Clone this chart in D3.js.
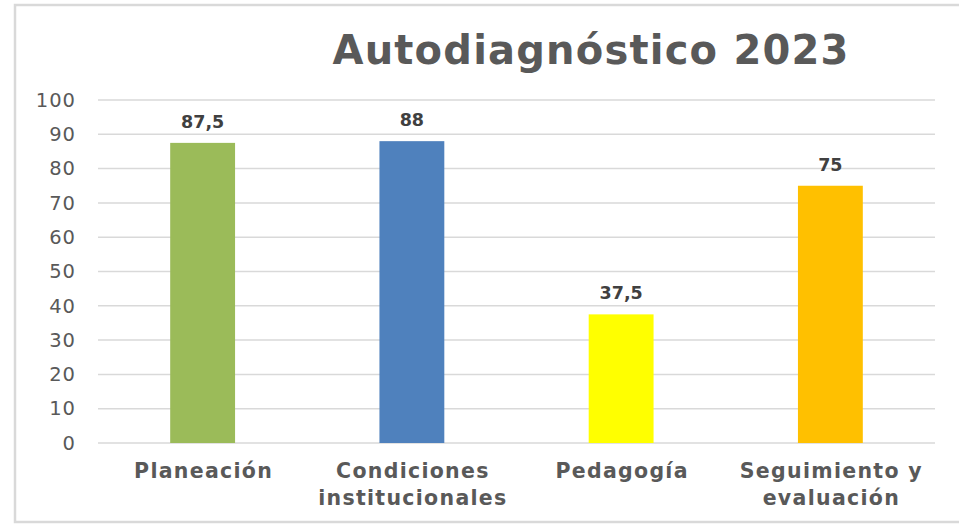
<!DOCTYPE html>
<html>
<head>
<meta charset="utf-8">
<script src="https://cdn.jsdelivr.net/npm/d3@7"></script>
<style>
body{margin:0;background:#fff;}
svg{display:block;font-family:Verdana,"DejaVu Sans",sans-serif;}
</style>
</head>
<body>
<svg id="chart" width="959" height="526"></svg>
<script>
// data
const categories=[['Planeación'],['Condiciones','institucionales'],['Pedagogía'],['Seguimiento y','evaluación']]
const values=[87.5,88,37.5,75]
const value_labels=['87,5','88','37,5','75']
const colors=['#9BBB59','#4F81BD','#FFFF00','#FFC000']
const y_ticks=[0,10,20,30,40,50,60,70,80,90,100]

const svg=d3.select('#chart')
const plot={left:98,right:935,top:100,bot:443}

// outer frame
svg.append('rect')
    .attr('x',15).attr('y',5)
    .attr('width',960).attr('height',517)
    .attr('fill','#fff')
    .attr('stroke','#d9d9d9').attr('stroke-width',2.5)

const x=d3.scaleBand()
    .domain(d3.range(categories.length))
    .range([plot.left,plot.right])
    .paddingInner(0.69).paddingOuter(0.345)

const y=d3.scaleLinear().domain([0,100]).range([plot.bot,plot.top])

// gridlines
svg.append('g')
    .selectAll('line')
    .data(y_ticks)
    .join('line')
    .attr('x1',plot.left).attr('x2',plot.right)
    .attr('y1',d=>y(d)).attr('y2',d=>y(d))
    .attr('stroke','#d9d9d9').attr('stroke-width',1.5)

// y axis labels
const y_axis=svg.append('g')
    .attr('transform',`translate(${plot.left-22},0)`)
    .call(d3.axisLeft(y).tickValues(y_ticks).tickSize(0).tickPadding(0))
y_axis.select('.domain').remove()
y_axis.selectAll('text')
    .attr('fill','#595959')
    .style('font-size','19.5px')
    .style('letter-spacing','1px')
    .style('font-family','Verdana,"DejaVu Sans",sans-serif')

// bars
svg.append('g')
    .selectAll('rect')
    .data(values)
    .join('rect')
    .attr('x',(d,i)=>x(i))
    .attr('width',x.bandwidth())
    .attr('y',d=>y(d))
    .attr('height',d=>y(0)-y(d))
    .attr('fill',(d,i)=>colors[i])

// value labels
svg.append('g')
    .selectAll('text')
    .data(values)
    .join('text')
    .attr('x',(d,i)=>x(i)+x.bandwidth()/2)
    .attr('y',d=>y(d)-15)
    .attr('text-anchor','middle')
    .attr('fill','#404040')
    .attr('font-weight','bold')
    .attr('font-size',17.5)
    .text((d,i)=>value_labels[i])

// category labels
svg.append('g')
    .selectAll('text')
    .data(categories)
    .join('text')
    .attr('text-anchor','middle')
    .attr('fill','#595959')
    .attr('font-weight','bold')
    .attr('font-size',20.5)
    .style('letter-spacing','1.3px')
    .each(function(d,i){
        d3.select(this).selectAll('tspan')
            .data(d)
            .join('tspan')
            .attr('x',x(i)+x.bandwidth()/2+1)
            .attr('y',(t,j)=>478+j*27)
            .text(t=>t)
    })

// title
svg.append('text')
    .attr('x',591).attr('y',64)
    .attr('text-anchor','middle')
    .attr('fill','#595959')
    .attr('font-weight','bold')
    .attr('font-size',40)
    .style('letter-spacing','1.2px')
    .text('Autodiagnóstico 2023')
</script>
</body>
</html>
